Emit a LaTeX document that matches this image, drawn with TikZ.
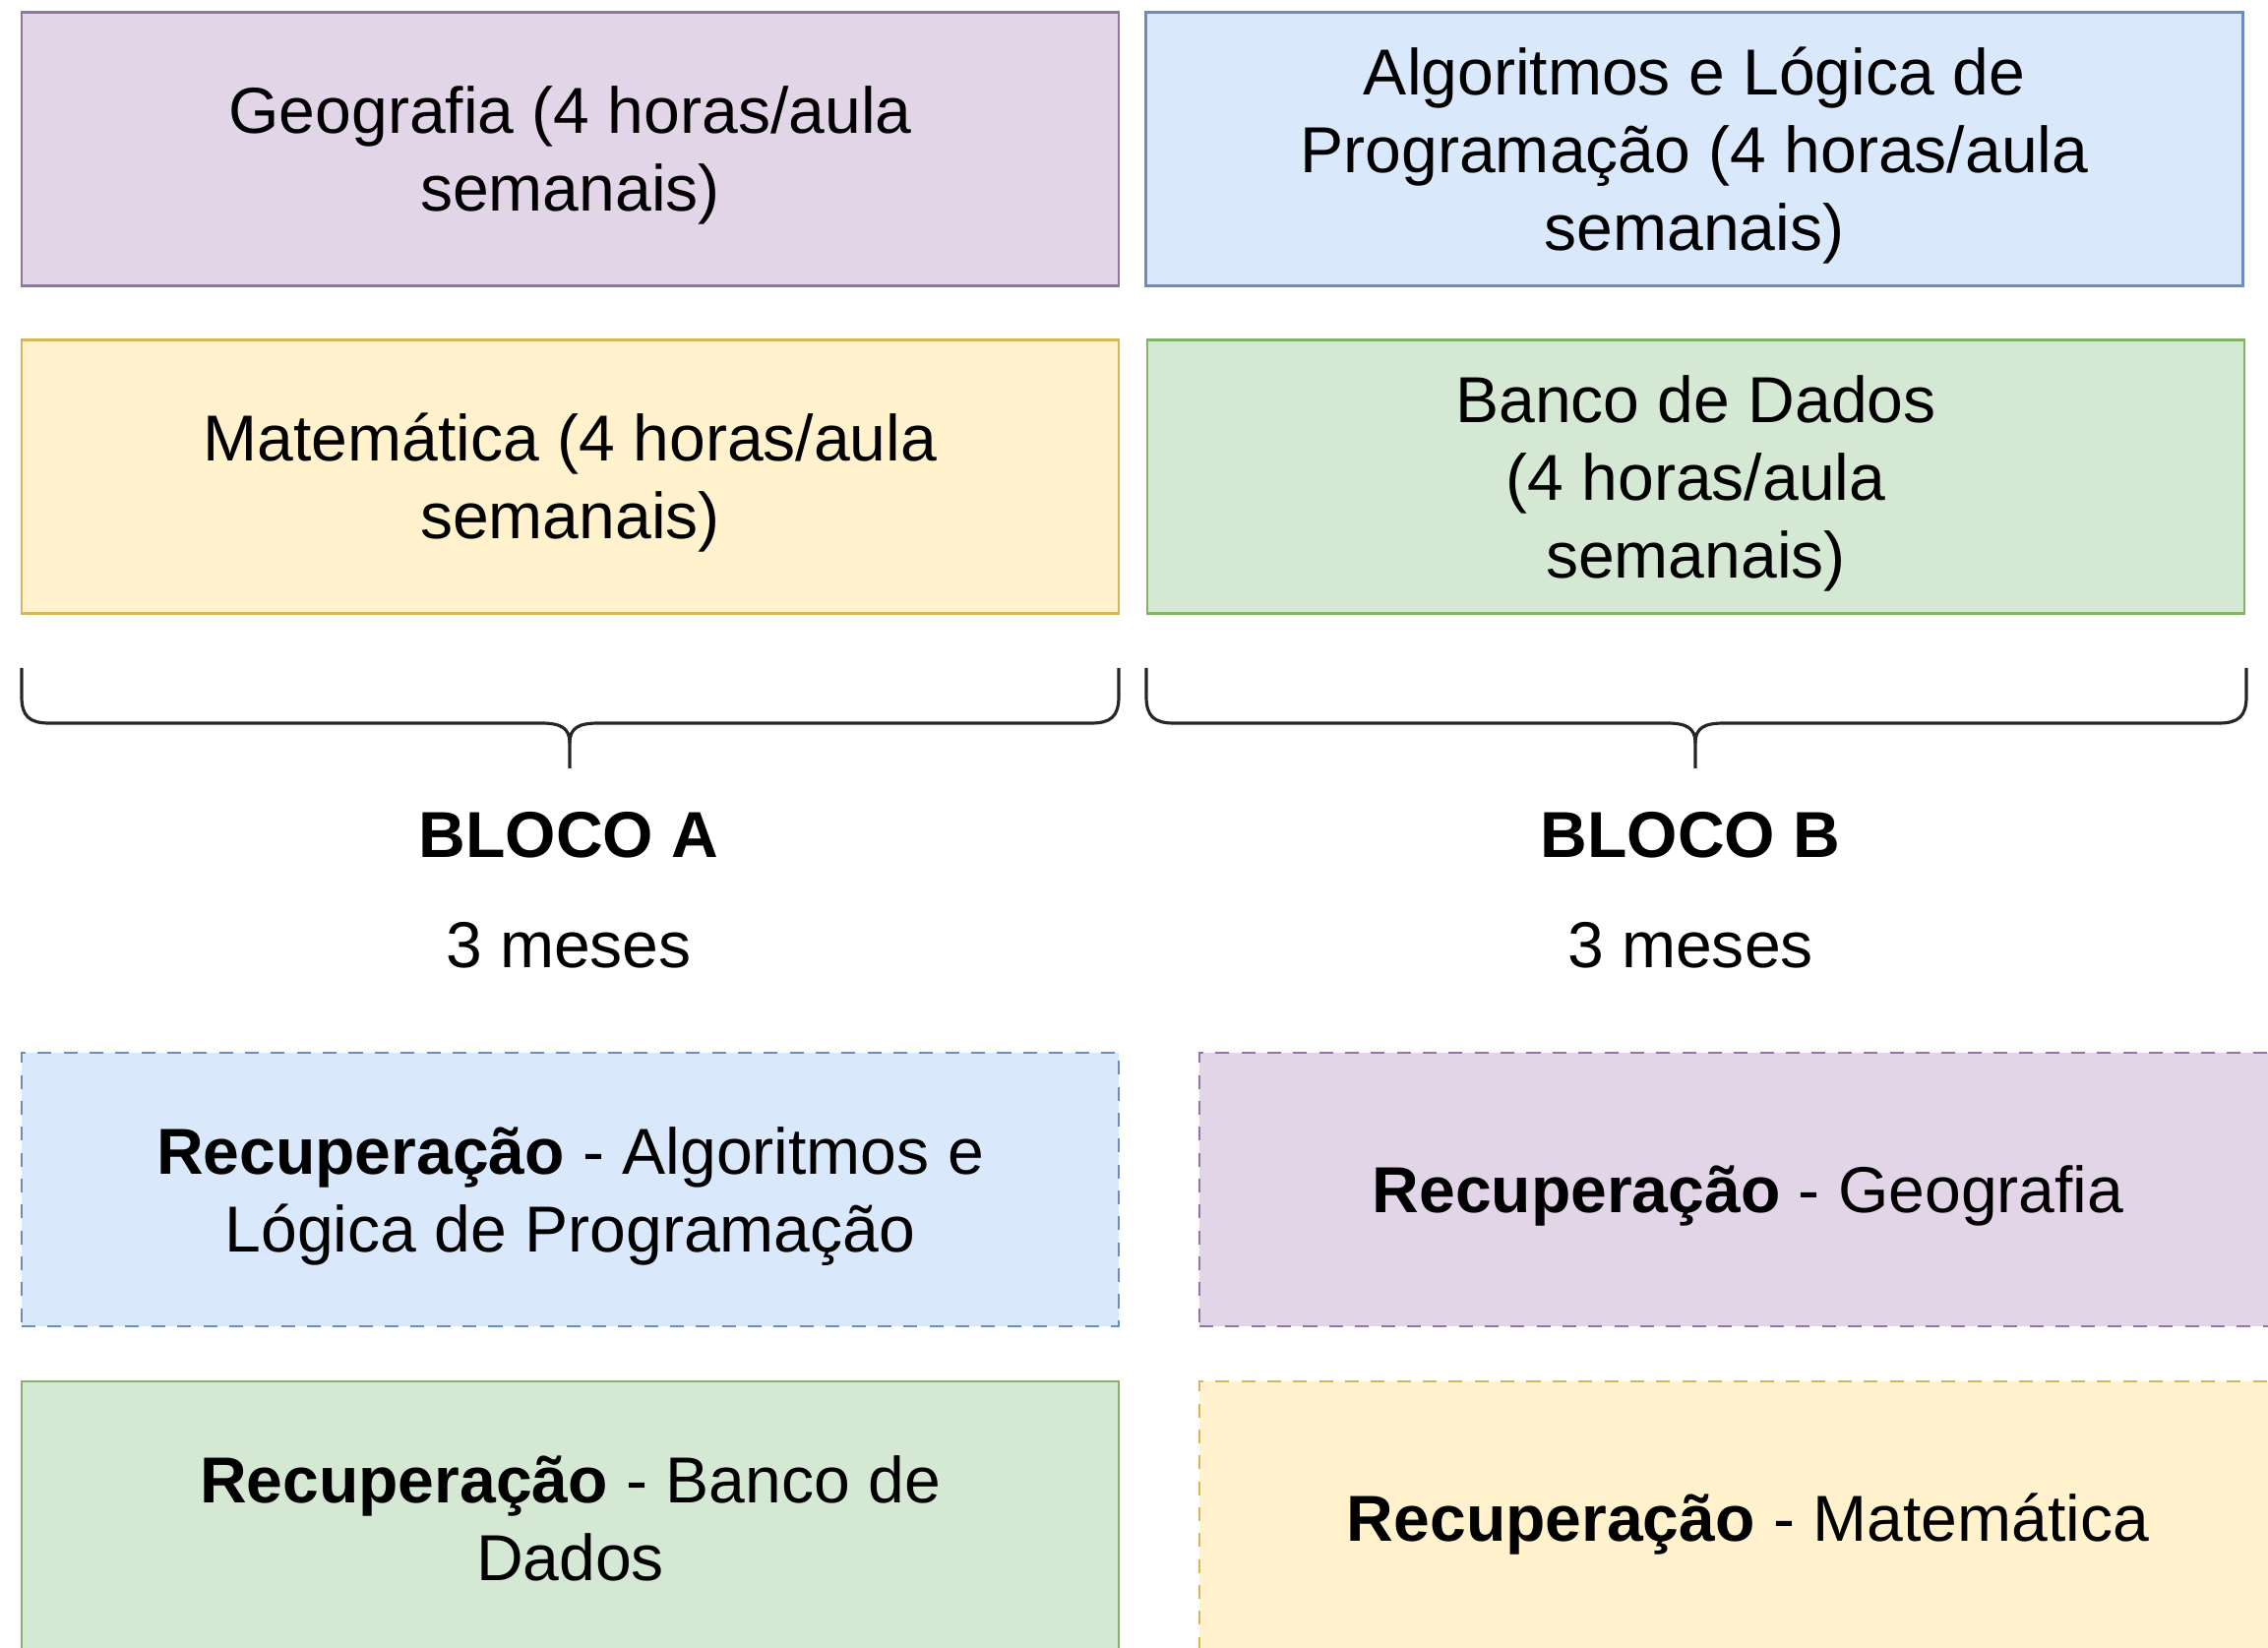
\documentclass[tikz,border=0pt]{standalone}
\usepackage{fontspec}
\setmainfont{Liberation Sans}
\usetikzlibrary{positioning}

\definecolor{roxoFundo}{HTML}{E1D5E7}
\definecolor{roxoBorda}{HTML}{9673A6}
\definecolor{azulFundo}{HTML}{DAE8FC}
\definecolor{azulBorda}{HTML}{6C8EBF}
\definecolor{amareloFundo}{HTML}{FFF2CC}
\definecolor{amareloBorda}{HTML}{D6B656}
\definecolor{verdeFundo}{HTML}{D5E8D4}
\definecolor{verdeBorda}{HTML}{82B366}

% desce um pouco a primeira linha do texto das caixas
\newcommand{\alto}{\rule{0pt}{17.5pt}}

\tikzset{
    disciplina/.style={rectangle, draw, line width=0.8pt, inner sep=0pt,
        minimum width=11.15cm, minimum height=2.78cm, align=center,
        font=\fontsize{18.8}{22.5}\selectfont},
    recuperacao/.style={disciplina, dash pattern=on 4pt off 3.5pt},
    roxo/.style={fill=roxoFundo, draw=roxoBorda},
    azul/.style={fill=azulFundo, draw=azulBorda},
    amarelo/.style={fill=amareloFundo, draw=amareloBorda},
    verde/.style={fill=verdeFundo, draw=verdeBorda},
    rotulo/.style={inner sep=0pt, font=\fontsize{18.8}{22.5}\selectfont},
    chave/.style={line width=0.9pt, draw=black!85}
}

\begin{document}
\begin{tikzpicture}
        \useasboundingbox (0,0) rectangle (23.05,-16.75);

        % disciplinas
        \node[disciplina, roxo](geo)    at (5.795,-1.515)  {\alto Geografia (4 horas/aula\\semanais)};
        \node[disciplina, azul](alg)    at (17.22,-1.515)  {\alto Algoritmos e Lógica de\\Programação (4 horas/aula\\semanais)};
        \node[disciplina, amarelo](mat) at (5.795,-4.845)  {\alto Matemática (4 horas/aula\\semanais)};
        \node[disciplina, verde](bd)    at (17.235,-4.845) {\alto Banco de Dados\\(4 horas/aula\\semanais)};

        % chaves
        \draw[chave] (0.22,-6.79) -- (0.22,-7.08)
            .. controls (0.22,-7.28) and (0.30,-7.35) .. (0.50,-7.35) -- (5.50,-7.35)
            .. controls (5.70,-7.35) and (5.79,-7.40) .. (5.79,-7.55) -- (5.79,-7.81);
        \draw[chave] (5.79,-7.55)
            .. controls (5.79,-7.40) and (5.88,-7.35) .. (6.08,-7.35) -- (11.09,-7.35)
            .. controls (11.29,-7.35) and (11.37,-7.28) .. (11.37,-7.08) -- (11.37,-6.79);
        \draw[chave] (11.65,-6.79) -- (11.65,-7.08)
            .. controls (11.65,-7.28) and (11.73,-7.35) .. (11.93,-7.35) -- (16.94,-7.35)
            .. controls (17.14,-7.35) and (17.23,-7.40) .. (17.23,-7.55) -- (17.23,-7.81);
        \draw[chave] (17.23,-7.55)
            .. controls (17.23,-7.40) and (17.32,-7.35) .. (17.52,-7.35) -- (22.55,-7.35)
            .. controls (22.75,-7.35) and (22.83,-7.28) .. (22.83,-7.08) -- (22.83,-6.79);

        % blocos
        \node[rotulo](blocoA) at (5.78,-8.49)  {\textbf{BLOCO A}};
        \node[rotulo](mesesA) at (5.78,-9.61)  {3 meses};
        \node[rotulo](blocoB) at (17.18,-8.49) {\textbf{BLOCO B}};
        \node[rotulo](mesesB) at (17.18,-9.61) {3 meses};

        % recuperacoes
        \node[recuperacao, azul](recAlg)    at (5.795,-12.09)  {\alto\textbf{Recuperação} - Algoritmos e\\Lógica de Programação};
        \node[recuperacao, roxo](recGeo)    at (17.765,-12.09) {\alto\textbf{Recuperação} - Geografia};
        \node[disciplina, verde](recBd)     at (5.795,-15.43)  {\textbf{Recuperação} - Banco de\\Dados};
        \node[recuperacao, amarelo](recMat) at (17.765,-15.43) {\alto\textbf{Recuperação} - Matemática};
    \end{tikzpicture}
\end{document}
